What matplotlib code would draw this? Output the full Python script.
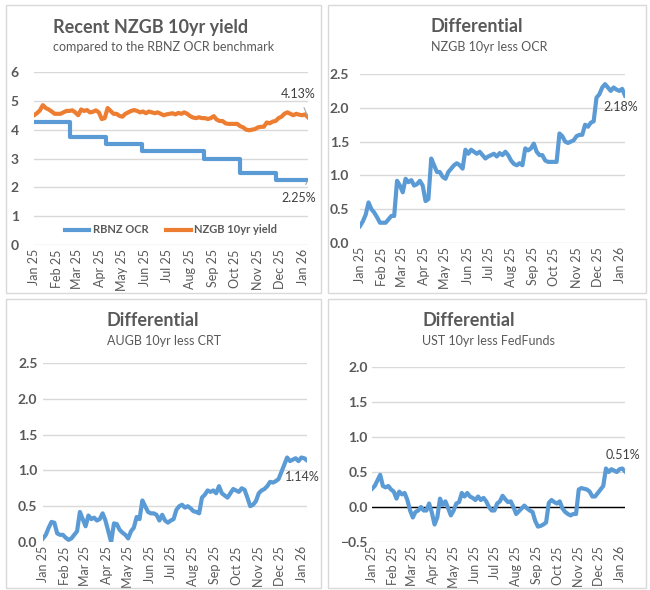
import matplotlib
matplotlib.use('Agg')
import matplotlib.pyplot as plt
import matplotlib.dates as mdates
from matplotlib.patches import Rectangle
import numpy as np
import pandas as pd

plt.rcParams['font.family'] = ['Lato', 'DejaVu Sans']

# Data: one reading every 4 days from 1 Jan 2025
dates = pd.date_range('2025-01-01', periods=94, freq='4D')

# RBNZ OCR decisions
ocr_dates = pd.to_datetime(['2025-01-01', '2025-02-19', '2025-04-09', '2025-05-28',
                            '2025-08-20', '2025-10-08', '2025-11-26'])
ocr_rates = [4.25, 3.75, 3.50, 3.25, 3.00, 2.50, 2.25]

# NZGB 10yr less OCR
nz_diff = [0.25, 0.32, 0.42, 0.60, 0.50, 0.45, 0.38, 0.30, 0.30, 0.30, 0.35, 0.40, 0.40,
           0.92, 0.85, 0.75, 0.95, 0.90, 0.93, 0.85, 0.87, 0.92, 0.85, 0.62, 0.65,
           1.25, 1.15, 1.05, 1.05, 0.98, 0.95, 1.05, 1.10, 1.15, 1.18, 1.15, 1.10,
           1.38, 1.32, 1.38, 1.35, 1.32, 1.35, 1.30, 1.25, 1.28, 1.30, 1.32, 1.28, 1.33,
           1.30, 1.35, 1.30, 1.22, 1.17, 1.15, 1.18, 1.15,
           1.40, 1.37, 1.40, 1.47, 1.35, 1.30, 1.30, 1.22, 1.20, 1.20, 1.20, 1.20,
           1.62, 1.58, 1.50, 1.48, 1.50, 1.52, 1.58, 1.60, 1.60, 1.75, 1.72, 1.78, 1.80,
           2.15, 2.20, 2.30, 2.35, 2.30, 2.25, 2.30, 2.27, 2.25, 2.28, 2.18]

# AUGB 10yr less CRT
au_diff = [0.05, 0.10, 0.20, 0.28, 0.27, 0.12, 0.10, 0.10, 0.06, 0.03, 0.05, 0.10, 0.15,
           0.42, 0.32, 0.22, 0.37, 0.32, 0.34, 0.30, 0.32, 0.40, 0.30, 0.15, 0.00,
           0.26, 0.25, 0.17, 0.13, 0.10, 0.05, 0.15, 0.20, 0.35, 0.32, 0.58, 0.50,
           0.42, 0.40, 0.40, 0.38, 0.30, 0.38, 0.30, 0.27, 0.30, 0.32, 0.45, 0.50, 0.52,
           0.48, 0.50, 0.47, 0.43, 0.42, 0.40, 0.62, 0.66,
           0.72, 0.70, 0.72, 0.68, 0.78, 0.68, 0.65, 0.62, 0.68, 0.74, 0.72, 0.70,
           0.75, 0.73, 0.62, 0.50, 0.52, 0.57, 0.68, 0.72, 0.74, 0.78, 0.84, 0.83, 0.85,
           0.88, 0.98, 1.08, 1.18, 1.13, 1.15, 1.17, 1.13, 1.18, 1.17, 1.14]

# UST 10yr less FedFunds
us_diff = [0.26, 0.30, 0.38, 0.46, 0.30, 0.28, 0.30, 0.25, 0.22, 0.12, 0.22, 0.18, 0.20,
           0.10, -0.05, -0.15, -0.07, -0.05, 0.00, -0.05, -0.05, 0.05, -0.08, -0.25, -0.15,
           0.12, 0.03, 0.08, -0.02, -0.12, -0.05, 0.05, 0.07, 0.20, 0.15, 0.20, 0.15,
           0.13, 0.10, 0.15, 0.10, 0.13, 0.08, 0.00, -0.05, -0.05, 0.05, 0.08, 0.16, 0.11,
           0.07, 0.08, 0.00, -0.10, -0.06, -0.02, 0.02, -0.02,
           -0.05, -0.07, -0.20, -0.28, -0.27, -0.25, -0.22, 0.06, 0.10, 0.07, 0.05, 0.08,
           -0.02, -0.07, -0.10, -0.12, -0.10, -0.10, 0.25, 0.27, 0.26, 0.25, 0.22, 0.15, 0.15,
           0.20, 0.25, 0.30, 0.55, 0.50, 0.54, 0.52, 0.50, 0.54, 0.55, 0.51]

# OCR on each reading date, NZGB 10yr = OCR + differential
ocr_on_dates = np.array(ocr_rates)[np.searchsorted(ocr_dates, dates, side='right') - 1]
nzgb = ocr_on_dates + np.array(nz_diff)

BLUE = '#5B9BD5'
ORANGE = '#ED7D31'
GREY = '#595959'
GRID = '#D9D9D9'
W, H = 650, 590

fig = plt.figure(figsize=(6.5, 5.9), dpi=100)

# chart borders (pixels: left, top, right, bottom)
for x0, y0, x1, y1 in [(6, 5, 321, 293), (328, 5, 646, 293),
                       (6, 299, 321, 588), (328, 299, 646, 588)]:
    fig.add_artist(Rectangle((x0 / W, 1 - y1 / H), (x1 - x0) / W, (y1 - y0) / H,
                             transform=fig.transFigure, fill=False, ec=GRID, lw=1))


def make_axes(left, top, right, bottom):
    ax = fig.add_axes([left / W, 1 - bottom / H, (right - left) / W, (bottom - top) / H])
    for s in ax.spines.values():
        s.set_visible(False)
    ax.grid(axis='y', color=GRID, lw=1)
    ax.set_axisbelow(True)
    ax.set_xlim(dates[0], dates[-1])
    ax.xaxis.set_major_locator(mdates.MonthLocator())
    ax.xaxis.set_major_formatter(mdates.DateFormatter('%b %y'))
    ax.tick_params(axis='x', length=0, pad=3, labelsize=9, labelcolor=GREY, rotation=90)
    ax.tick_params(axis='y', length=0, labelsize=10, labelcolor=GREY)
    return ax


def bold_yticks(ax):
    for lb in ax.get_yticklabels():
        lb.set_fontweight('bold')


def titles(x, y, title, sub):
    fig.text(x / W, 1 - y / H, title, fontsize=13, fontweight='bold', color=GREY,
             va='center', ha='left')
    fig.text(x / W, 1 - (y + 20) / H, sub, fontsize=9, color=GREY, va='center', ha='left')


def end_label(ax, xv, yv, text, dx, dy, leader=False):
    ax.annotate(text, (xv, yv), xytext=(dx, dy), textcoords='offset points',
                ha='center', va='center', fontsize=9, color='#404040',
                arrowprops=dict(arrowstyle='-', color='#A6A6A6', lw=0.8,
                                shrinkA=4, shrinkB=1) if leader else None)


# Recent NZGB 10yr yield
ax1 = make_axes(34, 72, 308, 245)
ax1.step(list(ocr_dates) + [dates[-1]], ocr_rates + [ocr_rates[-1]], where='post',
         color=BLUE, lw=3, label='RBNZ OCR')
ax1.plot(dates, nzgb, color=ORANGE, lw=3, label='NZGB 10yr yield')
ax1.set_ylim(0, 6)
ax1.set_yticks(range(0, 7))
ax1.tick_params(axis='y', pad=11)
bold_yticks(ax1)
leg = ax1.legend(loc='center', bbox_to_anchor=(0.5, 0.087), ncol=2, frameon=False,
                 handlelength=2.2, columnspacing=1.6, handletextpad=0.3,
                 prop={'size': 8, 'weight': 'bold'})
for t in leg.get_texts():
    t.set_color(GREY)
end_label(ax1, dates[-1], nzgb[-1], '4.13%', -7, 17, leader=True)
end_label(ax1, dates[-1], ocr_rates[-1], '2.25%', -7, -13, leader=True)
titles(53, 27, 'Recent NZGB 10yr yield', 'compared to the RBNZ OCR benchmark')

# NZGB 10yr less OCR
ax2 = make_axes(360, 74, 625, 243)
ax2.plot(dates, nz_diff, color=BLUE, lw=3)
ax2.set_ylim(0, 2.5)
ax2.set_yticks(np.arange(0, 2.51, 0.5))
ax2.yaxis.set_major_formatter('{x:.1f}')
ax2.tick_params(axis='y', pad=8)
bold_yticks(ax2)
end_label(ax2, dates[-1], nz_diff[-1], '2.18%', -3, -8)
titles(431, 27, 'Differential', 'NZGB 10yr less OCR')

# AUGB 10yr less CRT
ax3 = make_axes(43, 363, 307, 542)
ax3.plot(dates, au_diff, color=BLUE, lw=3)
ax3.set_ylim(0, 2.5)
ax3.set_yticks(np.arange(0, 2.51, 0.5))
ax3.yaxis.set_major_formatter('{x:.1f}')
ax3.tick_params(axis='y', pad=4)
bold_yticks(ax3)
end_label(ax3, dates[-1], au_diff[-1], '1.14%', -3, -12)
titles(107, 321, 'Differential', 'AUGB 10yr less CRT')

# UST 10yr less FedFunds
ax4 = make_axes(372, 367, 625, 542)
ax4.axhline(0, color='black', lw=1, zorder=1)
ax4.plot(dates, us_diff, color=BLUE, lw=3, zorder=2)
ax4.set_ylim(-0.5, 2.0)
ax4.set_yticks(np.arange(-0.5, 2.01, 0.5))
ax4.yaxis.set_major_formatter('{x:.1f}')
ax4.tick_params(axis='y', pad=3)
bold_yticks(ax4)
end_label(ax4, dates[-1], us_diff[-1], '0.51%', -1.5, 12, leader=True)
titles(422, 321, 'Differential', 'UST 10yr less FedFunds')

fig.savefig('out.png', dpi=100)
